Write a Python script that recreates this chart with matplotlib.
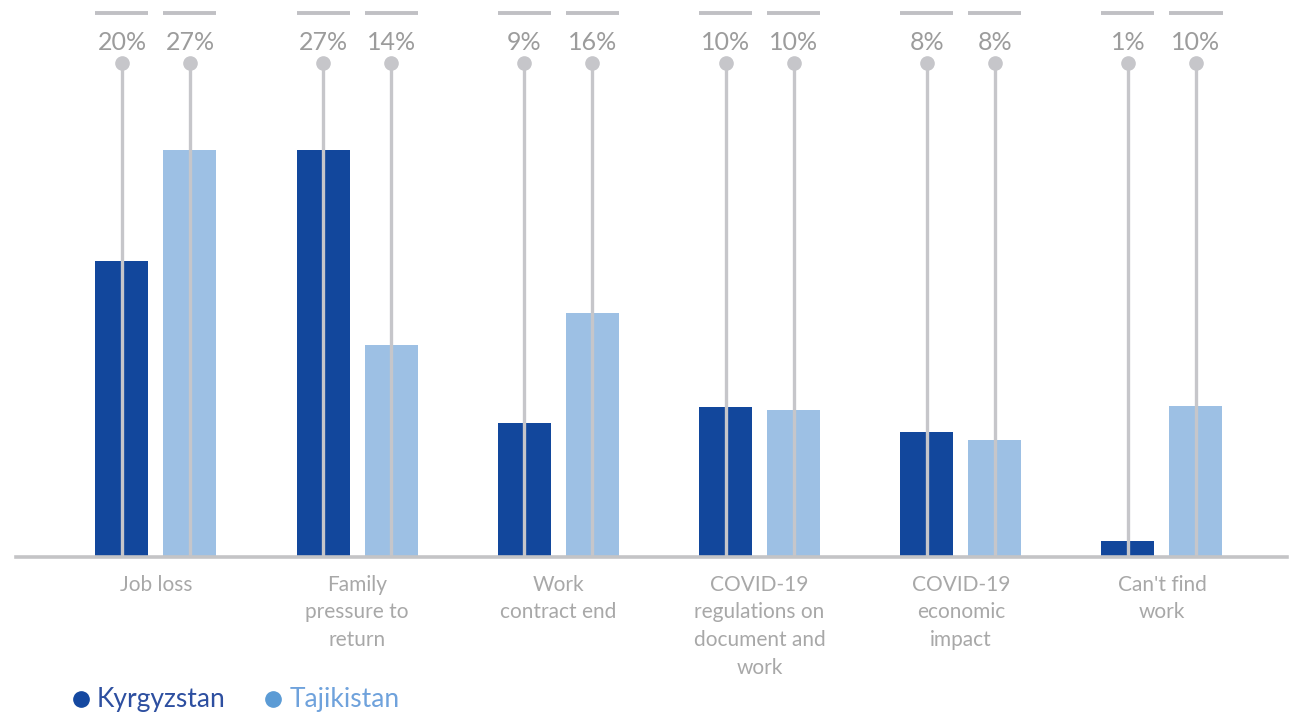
import matplotlib
matplotlib.use("Agg")
import matplotlib.pyplot as plt
import numpy as np
from matplotlib.lines import Line2D
from matplotlib.transforms import blended_transform_factory

plt.rcParams["font.family"] = ["Lato", "DejaVu Sans"]

categories = [
    "Job loss",
    "Family\npressure to\nreturn",
    "Work\ncontract end",
    "COVID-19\nregulations on\ndocument and\nwork",
    "COVID-19\neconomic\nimpact",
    "Can't find\nwork",
]
kyrgyzstan = [19.9, 27.4, 9.0, 10.1, 8.4, 1.1]
tajikistan = [27.4, 14.3, 16.4, 9.9, 7.9, 10.2]
series_names = ["Kyrgyzstan", "Tajikistan"]

DARK = "#12479c"
LIGHT = "#9dc0e4"
STEM = "#c6c6ca"
LABEL_GREY = "#9c9c9c"
CAT_GREY = "#a8a8a8"

W, H = 1302, 716
fig = plt.figure(figsize=(W / 100, H / 100), dpi=100)
# axes box in pixels: baseline at y=557, top rule at y=13
ax_left, ax_right, ax_bottom, ax_top = 16, 1287, 557, 13
ax = fig.add_axes([
    ax_left / W,
    1 - ax_bottom / H,
    (ax_right - ax_left) / W,
    (ax_bottom - ax_top) / H,
])
px_per_pct = 14.85
ax.set_ylim(0, (ax_bottom - ax_top) / px_per_pct)
group_px = 201.2
ax.set_xlim((ax_left - 156) / group_px, (ax_right - 156) / group_px)
ax.axis("off")

x = np.arange(len(categories))
offset = 34 / group_px
width = 53 / group_px
trans = blended_transform_factory(ax.transData, ax.transAxes)
dot_y = (ax_bottom - 63) / (ax_bottom - ax_top)
label_y = (ax_bottom - 42) / (ax_bottom - ax_top)

for values, sign, color in [(kyrgyzstan, -1, DARK), (tajikistan, 1, LIGHT)]:
    xs = x + sign * offset
    ax.bar(xs, values, width=width, color=color, zorder=2)
    for xi, v in zip(xs, values):
        ax.plot([xi, xi], [0, dot_y], transform=trans, color=STEM, lw=2.4,
                zorder=3, solid_capstyle="butt", clip_on=False)
        ax.plot([xi], [dot_y], transform=trans, marker="o", ms=9.5,
                color=STEM, zorder=4, clip_on=False)
        ax.text(xi, label_y, f"{round(v)}%", transform=trans, ha="center",
                va="center", fontsize=18, color=LABEL_GREY)
        ax.plot([xi - width / 2, xi + width / 2], [1, 1], transform=trans,
                color="#c0c0c4", lw=2.8, solid_capstyle="butt", clip_on=False)

# baseline
ax.plot([0, 1], [0, 0], transform=ax.transAxes, color="#c4c4c6", lw=2.6,
        zorder=5, clip_on=False)

for xi, cat in zip(x, categories):
    ax.text(xi, -0.033, cat, transform=trans, ha="center", va="top",
            fontsize=15, color=CAT_GREY, linespacing=1.47)

# legend
legend_y = 1 - 699 / H
for name, dot_x, text_x, dot_color, text_color in [
    (series_names[0], 81, 97, "#1448a0", "#2d4fa0"),
    (series_names[1], 273, 290, "#5b9bd5", "#6fa2dc"),
]:
    fig.add_artist(Line2D([dot_x / W], [legend_y], marker="o", ms=11,
                          color=dot_color, transform=fig.transFigure))
    fig.text(text_x / W, legend_y, name, color=text_color, fontsize=19,
             ha="left", va="center")

fig.savefig("out.png", dpi=100, facecolor="white")
